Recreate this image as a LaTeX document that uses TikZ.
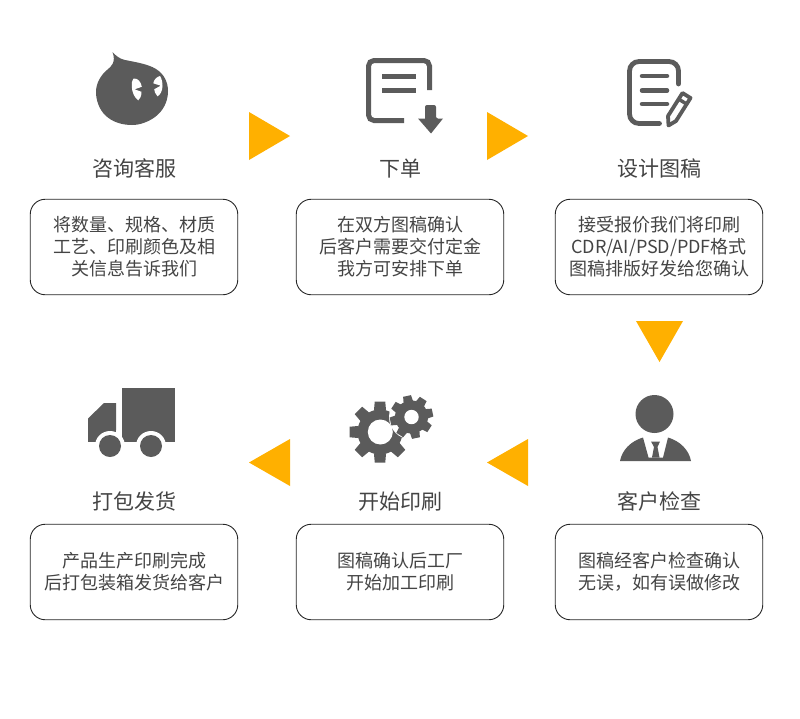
\documentclass[tikz,border=0pt]{standalone}
\usepackage{fontspec}
\setmainfont{Noto Sans CJK SC}
\definecolor{icon}{HTML}{5B5B5B}
\definecolor{txt}{HTML}{444444}
\definecolor{amber}{HTML}{FFB000}
\tikzset{
  x=1pt,y=-1pt,
  card/.style={draw=black!85,line width=0.9pt,rounded corners=15pt,minimum width=207.5pt,minimum height=95.5pt,inner sep=0pt,text=txt,align=center,font=\fontsize{18pt}{22pt}\selectfont},
  heading/.style={text=txt,inner sep=0pt,font=\fontsize{21pt}{24pt}\selectfont},
  pointer/.style={fill=amber,draw=none},
  solid icon/.style={fill=icon,draw=none},
  line icon/.style={draw=icon,fill=none,line width=5pt},
  gap/.style={fill=white,draw=none}
}
\newcommand{\gearshape}[6]{% x y root outer toothwidth rotation
  \begin{scope}[shift={(#1,#2)},rotate=#6]
    \fill[icon] (0,0) circle[radius=#3];
    \foreach \a in {0,45,...,315}{
      \begin{scope}[rotate=\a]
        \fill[icon] (-#5/2-0.8,-#3+1) -- (-#5/2,-#4) -- (#5/2,-#4) -- (#5/2+0.8,-#3+1) -- cycle;
      \end{scope}
    }
  \end{scope}
}
\begin{document}
\begin{tikzpicture}
\useasboundingbox (0,0) rectangle (800,718);
\fill[white] (0,0) rectangle (800,718);

% cards
\node[card] (c1) at (134,247) {将数量、规格、材质\\工艺、印刷颜色及相\\关信息告诉我们};
\node[card] (c2) at (400,247) {在双方图稿确认\\后客户需要交付定金\\我方可安排下单};
\node[card] (c3) at (659,247) {接受报价我们将印刷\\CDR/AI/PSD/PDF格式\\图稿排版好发给您确认};
\node[card] (c4) at (659,572) {图稿经客户检查确认\\无误，如有误做修改};
\node[card] (c5) at (400,572) {图稿确认后工厂\\开始加工印刷};
\node[card] (c6) at (134,572) {产品生产印刷完成\\后打包装箱发货给客户};

% headings
\node[heading] (t1) at (134,168.5) {咨询客服};
\node[heading] (t2) at (400.5,168.5) {下单};
\node[heading] (t3) at (659,168.5) {设计图稿};
\node[heading] (t4) at (659,501.5) {客户检查};
\node[heading] (t5) at (400,501.5) {开始印刷};
\node[heading] (t6) at (134,501.5) {打包发货};

% amber pointers
\fill[pointer] (249,112) -- (249,160) -- (290,136) -- cycle;
\fill[pointer] (487,112) -- (487,160) -- (528,136) -- cycle;
\fill[pointer] (636,321) -- (683,321) -- (659.5,362) -- cycle;
\fill[pointer] (528,439) -- (528,486) -- (487,462.5) -- cycle;
\fill[pointer] (290,439) -- (290,486) -- (249,462.5) -- cycle;

% chat blob
\fill[solid icon] (112.5,52) .. controls (116,56) and (120,59) .. (125,60)
  .. controls (135,62) and (148,64) .. (156,69)
  .. controls (164,74) and (168,82) .. (168,91)
  .. controls (168,102) and (163,111) .. (155,117)
  .. controls (148,122) and (140,125) .. (132,125)
  .. controls (122,125) and (112,122) .. (105,115)
  .. controls (99,109) and (96,100) .. (96,92)
  .. controls (96,83) and (101,75) .. (107,70)
  .. controls (112,66) and (116,62) .. (112.5,52) -- cycle;
\fill[white] (133.5,78.5) .. controls (138,78) and (141,82) .. (141.8,86.8)
  -- (134.5,89.3) -- (141.5,91.8)
  .. controls (141.5,96) and (140,99) .. (138.3,100.3)
  .. controls (134.5,98) and (132,92) .. (131.8,87)
  .. controls (131.6,83) and (132,80) .. (133.5,78.5) -- cycle;
\fill[white] (160,76) .. controls (162,79) and (162.5,83) .. (162.5,86)
  -- (162.5,86) .. controls (162.5,91) and (160,95) .. (157.5,96.3)
  .. controls (155.5,94) and (154.2,91.5) .. (154.2,89.3)
  -- (160.7,85.7) -- (153.3,83.3)
  .. controls (154,79.5) and (156.5,77) .. (160,76) -- cycle;

% order document
\draw[line icon] (429.5,90) -- (429.5,66) arc[start angle=0,end angle=-90,radius=5.5] -- (374,60.5) arc[start angle=-90,end angle=-180,radius=5.5] -- (368.5,115) arc[start angle=180,end angle=90,radius=5.5] -- (404,120.5);
\fill[solid icon] (382,73.5) rectangle (416,78.5);
\fill[solid icon] (382,88.2) rectangle (416,93.2);
\fill[solid icon,rounded corners=2pt] (425,118.5) -- (425,105) -- (436,105) -- (436,118.5) -- (436,118.5) [sharp corners] -- (443,118.5) -- (431,133.5) -- (418,118.5) -- cycle;

% design document with pencil
\draw[line icon,line width=4.8pt,line cap=round] (678.5,84) -- (678.5,71) arc[start angle=0,end angle=-90,radius=9.5] -- (639,61.5) arc[start angle=-90,end angle=-180,radius=9.5] -- (629.5,114) arc[start angle=180,end angle=90,radius=9.5] -- (659.5,123.5);
\foreach \yy in {76,90.5,104}{\draw[draw=icon,line width=4.5pt,line cap=round] (642,\yy) -- (667,\yy);}
\draw[draw=icon,line width=3.8pt,line join=round] (682.5,93) -- (690.5,98) -- (676,121) -- (668.5,125.5) -- (668,116) -- cycle;
\draw[draw=icon,line width=3.5pt] (678.5,99) -- (686.5,104);

% truck
\fill[solid icon] (122,388) rectangle (175,441.7);
\fill[solid icon] (88,418.5) -- (104,403) -- (116,403) -- (116,430) -- (100,430) -- (88,441.7) -- cycle;
\fill[solid icon] (88,430) rectangle (116,441.7);
\fill[gap] (110,446) circle[radius=15];
\fill[gap] (151,446) circle[radius=15];
\fill[white] (80,441.7) rectangle (180,462);
\fill[solid icon] (110,446) circle[radius=11];
\fill[solid icon] (151,446) circle[radius=11];

% gears
\gearshape{380}{432}{22.5}{30.5}{10.5}{0}
\fill[white] (380.3,432) circle[radius=12.5];
\fill[gap] (411.5,417) circle[radius=22.5];
\gearshape{411.5}{417}{16.5}{21.5}{8}{12}
\fill[white] (411.5,417) circle[radius=7.2];

% person
\fill[solid icon] (654.5,414) circle[radius=19];
\fill[solid icon] (620,461) .. controls (622,450) and (631,441) .. (643,437.5)
  -- (648.5,457.5) -- (663,457.5) -- (668,437.5)
  .. controls (680,441) and (689,450) .. (691,461) -- cycle;
\fill[solid icon] (651,441.5) -- (660,441.5) -- (657.5,447) -- (659.5,457.5) -- (652,457.5) -- (654,447) -- cycle;
\end{tikzpicture}
\end{document}
